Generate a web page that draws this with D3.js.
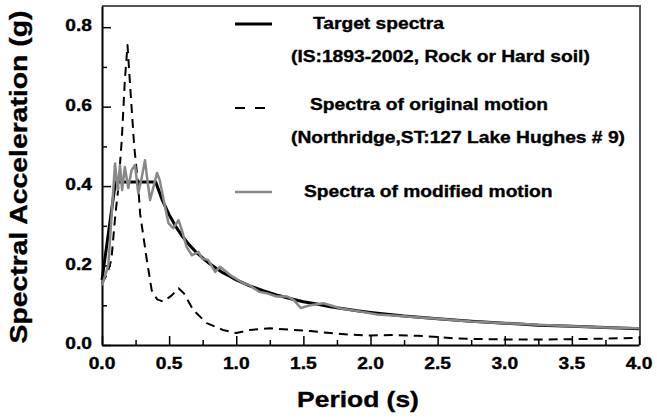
<!DOCTYPE html>
<html>
<head>
<meta charset="utf-8">
<script src="https://cdn.jsdelivr.net/npm/d3@7"></script>
<style>
  body { margin: 0; background: #fff; }
  text { font-family: "Liberation Sans", Arial, sans-serif; font-weight: bold; fill: #000; stroke: #000; stroke-width: 0.35px; }
</style>
</head>
<body>
<div class="graph"></div>
<script>
(() => {
// target spectrum, IS:1893-2002 rock / hard soil
var targetT  = [0, 0.1, 0.4, 0.45, 0.5, 0.55, 0.6, 0.65, 0.7, 0.75, 0.8, 0.85, 0.9, 0.95, 1.0, 1.1, 1.2, 1.3, 1.4, 1.5, 1.6, 1.7, 1.8, 1.9, 2.0, 2.25, 2.5, 2.75, 3.0, 3.25, 3.5, 3.75, 4.0];
var targetSa = [0.164, 0.41, 0.41, 0.364, 0.328, 0.298, 0.273, 0.252, 0.234, 0.219, 0.205, 0.193, 0.182, 0.173, 0.164, 0.149, 0.137, 0.126, 0.117, 0.109, 0.103, 0.096, 0.091, 0.086, 0.082, 0.073, 0.066, 0.060, 0.055, 0.050, 0.047, 0.044, 0.041];

// original motion (Northridge)
var origT  = [0, 0.04, 0.07, 0.1, 0.12, 0.147, 0.17, 0.19, 0.21, 0.24, 0.27, 0.284, 0.334, 0.37, 0.41, 0.457, 0.52, 0.57, 0.61, 0.68, 0.78, 0.9, 1.0, 1.1, 1.25, 1.43, 1.55, 1.7, 1.85, 2.0, 2.17, 2.35, 2.47, 2.62, 2.8, 3.0, 3.3, 3.6, 3.85, 4.0];
var origSa = [0.155, 0.18, 0.215, 0.33, 0.39, 0.515, 0.665, 0.755, 0.65, 0.5, 0.4, 0.33, 0.214, 0.138, 0.115, 0.109, 0.125, 0.143, 0.13, 0.088, 0.055, 0.038, 0.03, 0.038, 0.042, 0.038, 0.035, 0.03, 0.026, 0.024, 0.025, 0.023, 0.021, 0.017, 0.015, 0.014, 0.014, 0.015, 0.017, 0.018];

// modified motion
var modT  = [0, 0.047, 0.097, 0.117, 0.134, 0.15, 0.17, 0.196, 0.22, 0.246, 0.27, 0.295, 0.32, 0.34, 0.358, 0.385, 0.41, 0.43, 0.47, 0.495, 0.53, 0.57, 0.595, 0.63, 0.67, 0.72, 0.744, 0.79, 0.843, 0.88, 0.955, 1.05, 1.1, 1.17, 1.23, 1.3, 1.38, 1.43, 1.48, 1.55, 1.65, 1.78, 1.93, 2.05, 2.22, 2.5, 2.75, 3.0, 3.25, 3.5, 3.75, 4.0];
var modSa = [0.15, 0.2, 0.457, 0.39, 0.453, 0.39, 0.448, 0.395, 0.44, 0.453, 0.382, 0.42, 0.465, 0.41, 0.365, 0.4, 0.433, 0.415, 0.347, 0.307, 0.294, 0.314, 0.289, 0.247, 0.226, 0.234, 0.218, 0.214, 0.184, 0.197, 0.176, 0.156, 0.15, 0.134, 0.13, 0.122, 0.122, 0.113, 0.093, 0.1, 0.105, 0.092, 0.084, 0.077, 0.073, 0.066, 0.059, 0.055, 0.051, 0.047, 0.044, 0.042];

var xTicks = [0, 0.5, 1.0, 1.5, 2.0, 2.5, 3.0, 3.5, 4.0];
var xMinor = [0.25, 0.75, 1.25, 1.75, 2.25, 2.75, 3.25, 3.75];
var yTicks = [0, 0.2, 0.4, 0.6, 0.8];
var yMinor = [0.1, 0.3, 0.5, 0.7];

var legendLabels = [
  ['Target spectra', '(IS:1893-2002, Rock or Hard soil)'],
  ['Spectra of original motion', '(Northridge,ST:127 Lake Hughes # 9)'],
  ['Spectra of modified motion']
];

var width = 657, height = 419;
var m = {left: 102, right: 639, top: 6, bottom: 345};

var svg = d3.select('div.graph')
  .append('svg')
    .attr('width', width)
    .attr('height', height);

var x = d3.scaleLinear().domain([0, 4]).range([m.left, m.right]);
var y = d3.scaleLinear().domain([0, 0.8533]).range([m.bottom, m.top]);

// fonts in the original are wider than Arial
var stretch = function(sel, k) {
  sel.each(function() {
    var w = this.getComputedTextLength();
    d3.select(this).attr('textLength', w * k).attr('lengthAdjust', 'spacingAndGlyphs');
  });
};

// frame: top and right thinner
svg.append('path')
  .attr('d', 'M' + m.left + ',' + m.top + 'H' + (m.right + 1) + 'V' + m.bottom)
  .attr('fill', 'none')
  .attr('stroke', '#555')
  .attr('stroke-width', 2);

// axes with inward ticks
svg.append('g')
  .attr('transform', 'translate(0,' + m.bottom + ')')
  .call(d3.axisTop(x).tickValues(xTicks).tickSize(9).tickSizeOuter(0).tickFormat(''));
svg.append('g')
  .attr('transform', 'translate(0,' + m.bottom + ')')
  .call(d3.axisTop(x).tickValues(xMinor).tickSize(5).tickFormat(''))
  .select('.domain').remove();
svg.append('g')
  .attr('transform', 'translate(' + m.left + ',0)')
  .call(d3.axisRight(y).tickValues(yTicks).tickSize(9).tickSizeOuter(0).tickFormat(''));
svg.append('g')
  .attr('transform', 'translate(' + m.left + ',0)')
  .call(d3.axisRight(y).tickValues(yMinor).tickSize(5).tickFormat(''))
  .select('.domain').remove();

svg.selectAll('.domain')
  .attr('stroke', '#000')
  .attr('stroke-width', 2);
svg.selectAll('.tick line')
  .attr('stroke', '#000')
  .attr('stroke-width', 1.5);

// tick labels
svg.append('g')
  .selectAll('text')
  .data(xTicks)
  .enter()
  .append('text')
    .attr('x', (d) => x(d))
    .attr('y', m.bottom + 24)
    .attr('text-anchor', 'middle')
    .style('font-size', '16px')
    .text((d) => d.toFixed(1))
    .call(stretch, 1.2);

svg.append('g')
  .selectAll('text')
  .data(yTicks)
  .enter()
  .append('text')
    .attr('x', 92)
    .attr('y', (d) => y(d) + 4)
    .attr('text-anchor', 'end')
    .style('font-size', '16px')
    .text((d) => d.toFixed(1))
    .call(stretch, 1.2);

// axis titles
svg.append('text')
  .attr('x', 358)
  .attr('y', 407)
  .attr('text-anchor', 'middle')
  .style('font-size', '22px')
  .text('Period (s)')
  .call(stretch, 1.2);

svg.append('text')
  .attr('transform', 'translate(27,177) rotate(-90)')
  .attr('text-anchor', 'middle')
  .style('font-size', '23px')
  .text('Spectral Acceleration (g)')
  .attr('textLength', 333)
  .attr('lengthAdjust', 'spacingAndGlyphs');

// curves
var line = d3.line()
  .x((d) => x(d[0]))
  .y((d) => y(d[1]));

var series = [
  {T: targetT, Sa: targetSa, color: '#000', w: 3, dash: null},
  {T: origT, Sa: origSa, color: '#000', w: 2, dash: '9,6'},
  {T: modT, Sa: modSa, color: '#888', w: 2.5, dash: null}
];

svg.append('g')
  .selectAll('path')
  .data(series)
  .enter()
  .append('path')
    .attr('d', (s) => line(d3.zip(s.T, s.Sa)))
    .attr('fill', 'none')
    .attr('stroke', (s) => s.color)
    .attr('stroke-width', (s) => s.w)
    .attr('stroke-dasharray', (s) => s.dash)
    .attr('stroke-linejoin', 'round');

// legend
var legY = [24, 108, 192];
var leg = svg.append('g');
leg.selectAll('line')
  .data(series)
  .enter()
  .append('line')
    .attr('x1', 235)
    .attr('x2', (s, i) => i == 1 ? 266 : 272)
    .attr('y1', (s, i) => legY[i])
    .attr('y2', (s, i) => legY[i])
    .attr('stroke', (s) => s.color)
    .attr('stroke-width', (s) => s.w)
    .attr('stroke-dasharray', (s, i) => i == 1 ? '10,10' : null);

var firstX = [313, 310, 304];
var firstY = [29, 110, 197];
var secondY = [62, 143];
legendLabels.forEach(function(lab, i) {
  leg.append('text')
    .attr('x', firstX[i])
    .attr('y', firstY[i])
    .style('font-size', '16px')
    .text(lab[0])
    .call(stretch, 1.2);
  if (lab[1]) {
    leg.append('text')
      .attr('x', 291)
      .attr('y', secondY[i])
      .style('font-size', '16px')
      .text(lab[1])
      .call(stretch, 1.2);
  }
});
})();
</script>
</body>
</html>
